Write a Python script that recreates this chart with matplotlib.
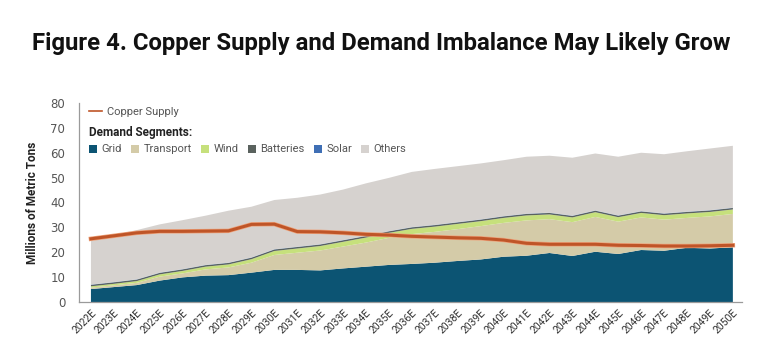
import matplotlib
matplotlib.use("Agg")
import matplotlib.pyplot as plt
import matplotlib.patheffects as pe
from matplotlib.patches import Patch
from matplotlib.lines import Line2D
import numpy as np

years = [f"{y}E" for y in range(2022, 2051)]
grid = [5.2, 6.0, 6.8, 8.6, 9.9, 10.6, 10.8, 11.8, 12.9, 12.9, 12.7, 13.5, 14.2, 14.9, 15.3,
        15.8, 16.5, 17.1, 18.2, 18.6, 19.7, 18.5, 20.2, 19.3, 20.9, 20.6, 21.8, 21.5, 22.0]
transport = [0.6, 0.7, 0.9, 1.6, 1.6, 2.5, 3.1, 4.0, 6.0, 6.9, 8.0, 8.8, 9.7, 10.9, 12.0,
             12.4, 12.8, 13.4, 13.6, 14.2, 13.6, 13.6, 14.0, 13.0, 13.1, 12.5, 12.0, 12.9, 13.4]
wind = [0.5, 0.6, 0.7, 0.9, 1.0, 1.1, 1.2, 1.4, 1.6, 1.7, 1.8, 1.9, 2.0, 2.0, 2.1,
        2.1, 2.1, 2.0, 2.0, 2.0, 1.9, 1.9, 1.9, 1.8, 1.8, 1.8, 1.8, 1.8, 1.8]
batteries = [0.6] * 29
solar = [0.1] * 29
others = [18.5, 19.0, 19.8, 19.4, 19.7, 19.8, 20.9, 20.4, 19.8, 19.7, 20.0, 20.3, 21.1, 21.4, 22.2,
          22.5, 22.5, 22.5, 22.5, 22.9, 22.9, 23.3, 22.9, 23.6, 23.5, 23.8, 24.3, 24.8, 24.9]
copper_supply = [25.4, 26.6, 27.8, 28.4, 28.4, 28.5, 28.6, 31.2, 31.3, 28.3, 28.2, 27.8, 27.2, 26.9, 26.4,
                 26.1, 25.8, 25.6, 24.9, 23.6, 23.2, 23.2, 23.2, 22.8, 22.7, 22.5, 22.5, 22.6, 22.8]
segment_names = ["Grid", "Transport", "Wind", "Batteries", "Solar", "Others"]
colors = ["#0c5473", "#d4cba8", "#c6e07c", "#5a625e", "#3f6fb5", "#d6d2cf"]

narrow = ["Roboto", "DejaVu Sans"]

fig = plt.figure(figsize=(7.62, 3.59), dpi=100)
ax = fig.add_axes([0.1037, 0.1588, 0.8701, 0.5543])
x = np.arange(len(years))
ax.stackplot(x, grid, transport, wind, batteries, solar, others,
             colors=colors, linewidth=0)
ax.plot(x, copper_supply, color="#bf5528", lw=2.2, solid_joinstyle="round",
        path_effects=[pe.Stroke(linewidth=3.2, foreground="#eea27a"), pe.Normal()])

ax.set_xlim(-0.52, 28.4)
ax.set_ylim(0, 80)
ax.set_yticks(range(0, 81, 10))
ax.set_xticks(x)
ax.set_xticklabels(years, rotation=45, ha="right", rotation_mode="anchor",
                   fontsize=7.5, color="#333333", family=narrow)
ax.tick_params(axis="both", length=0)
ax.tick_params(axis="y", labelsize=8.5, labelcolor="#555555", pad=10)
ax.tick_params(axis="x", pad=4)
for s in ["top", "right"]:
    ax.spines[s].set_visible(False)
for s in ["left", "bottom"]:
    ax.spines[s].set_color("#9a9a9a")
    ax.spines[s].set_linewidth(0.9)
ax.set_ylabel("Millions of Metric Tons", fontsize=8.5, fontweight="bold", color="#222222",
              labelpad=8, family=narrow)

leg1 = ax.legend(handles=[Line2D([0], [0], color="#bf5528", lw=1.2)], labels=["Copper Supply"],
                 loc="upper left", bbox_to_anchor=(0.0, 1.03), frameon=False,
                 handlelength=1.2, handletextpad=0.4, prop={"size": 8, "family": narrow},
                 labelcolor="#555555")
ax.add_artist(leg1)
handles = [Patch(facecolor=c, edgecolor="none") for c in colors]
leg2 = ax.legend(handles=handles, labels=segment_names, loc="upper left",
                 bbox_to_anchor=(0.0, 0.935), ncol=6, frameon=False,
                 handlelength=0.75, handleheight=0.75, handletextpad=0.4, columnspacing=0.8,
                 prop={"size": 8, "family": narrow}, labelcolor="#555555",
                 title="Demand Segments:",
                 title_fontproperties={"size": 8.5, "weight": "bold", "family": narrow},
                 alignment="left")
leg2.get_title().set_color("#222222")

fig.text(0.5, 0.88, "Figure 4. Copper Supply and Demand Imbalance May Likely Grow",
         ha="center", va="center", fontsize=17.2, fontweight="bold", color="#111111",
         family=narrow)

fig.savefig("out.png", dpi=100)
